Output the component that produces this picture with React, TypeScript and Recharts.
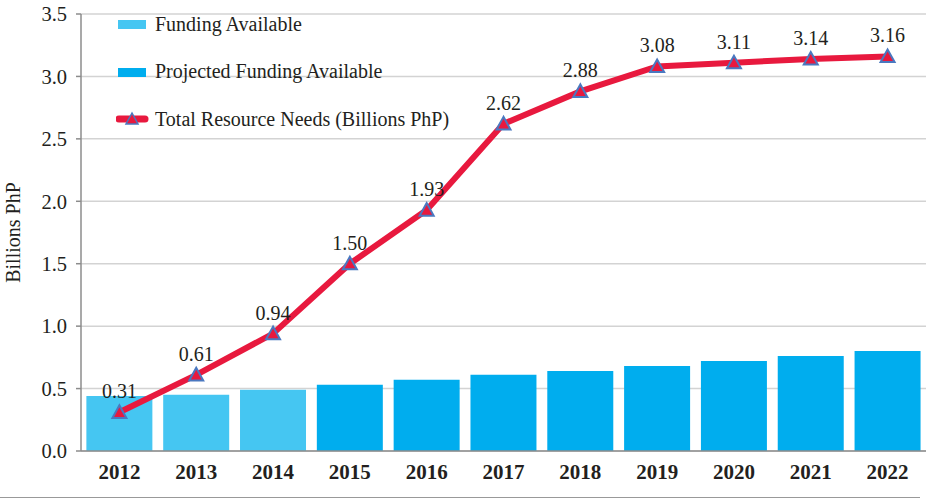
import React from 'react';
import { ComposedChart, Bar, Line, XAxis, YAxis, CartesianGrid, Legend, LabelList } from 'recharts';

const years = ['2012', '2013', '2014', '2015', '2016', '2017', '2018', '2019', '2020', '2021', '2022'];
const fundingAvailable = [0.44, 0.45, 0.49, null, null, null, null, null, null, null, null];
const projectedFunding = [null, null, null, 0.53, 0.57, 0.61, 0.64, 0.68, 0.72, 0.76, 0.80];
const totalNeeds = [0.31, 0.61, 0.94, 1.5, 1.93, 2.62, 2.88, 3.08, 3.11, 3.14, 3.16];
const yTicks = [0, 0.5, 1, 1.5, 2, 2.5, 3, 3.5];
const edgeTicks = [0, 1, 2, 3, 4, 5, 6, 7, 8, 9, 10, 11];

const seriesNames = {
  funding: 'Funding Available',
  projected: 'Projected Funding Available',
  total: 'Total Resource Needs (Billions PhP)',
};

const COLORS = {
  funding: '#45C6F2',
  projected: '#00ADEE',
  line: '#E8193E',
  marker: '#4A78C0',
  grid: '#D3D3D3',
  axis: '#8C8C8C',
  text: '#231F20',
};

const FONT = '"Liberation Serif", "DejaVu Serif", serif';

const data = years.map((y, i) => ({
  year: y,
  funding: fundingAvailable[i],
  projected: projectedFunding[i],
  total: totalNeeds[i],
}));

const Triangle = (props: any) => {
  const { cx, cy } = props;
  if (cx == null || cy == null) return null;
  const s = 7;
  return (
    <polygon
      points={`${cx},${cy - s} ${cx - s},${cy + s * 0.8} ${cx + s},${cy + s * 0.8}`}
      fill={COLORS.line}
      stroke={COLORS.marker}
      strokeWidth={2}
    />
  );
};

const LegendContent = () => {
  const rowStyle: React.CSSProperties = {
    display: 'flex',
    alignItems: 'center',
    height: 24,
    marginBottom: 23.5,
    fontFamily: FONT,
    fontSize: 20,
    color: COLORS.text,
    whiteSpace: 'nowrap',
  };
  return (
    <div>
      <div style={rowStyle}>
        <svg width={39} height={12}>
          <rect x={2} y={2} width={28} height={9} fill={COLORS.funding} />
        </svg>
        <span>{seriesNames.funding}</span>
      </div>
      <div style={rowStyle}>
        <svg width={39} height={12}>
          <rect x={2} y={2} width={28} height={9} fill={COLORS.projected} />
        </svg>
        <span>{seriesNames.projected}</span>
      </div>
      <div style={rowStyle}>
        <svg width={39} height={16}>
          <line x1={3} y1={8} x2={29} y2={8} stroke={COLORS.line} strokeWidth={7} strokeLinecap="round" />
          <polygon points="16,2 10,13 22,13" fill={COLORS.line} stroke={COLORS.marker} strokeWidth={1.5} />
        </svg>
        <span>{seriesNames.total}</span>
      </div>
    </div>
  );
};

export default function App() {
  return (
    <div style={{ position: 'absolute', left: 0, top: 0, width: 926, height: 500, background: '#fff' }}>
      <ComposedChart
        width={926}
        height={500}
        data={data}
        margin={{ top: 14, right: 0, bottom: 0, left: 0 }}
        barCategoryGap="7%"
      >
        <CartesianGrid vertical={false} stroke={COLORS.grid} strokeWidth={1.5} yAxisId="y" xAxisId="cat" />
        <XAxis
          xAxisId="edges"
          type="number"
          dataKey={() => 0}
          domain={[0, 11]}
          ticks={edgeTicks}
          allowDataOverflow
          tick={false}
          axisLine={false}
          tickLine={{ stroke: COLORS.axis, strokeWidth: 1.5 }}
          tickSize={6}
          height={0}
        />
        <XAxis
          xAxisId="cat"
          dataKey="year"
          height={49}
          tickLine={false}
          axisLine={{ stroke: COLORS.axis, strokeWidth: 1.5 }}
          tick={{ fontFamily: FONT, fontSize: 21, fontWeight: 'bold', fill: COLORS.text }}
          tickMargin={7}
          interval={0}
        />
        <YAxis
          yAxisId="y"
          width={81}
          domain={[0, 3.5]}
          ticks={yTicks}
          tickFormatter={(v: number) => v.toFixed(1)}
          axisLine={{ stroke: COLORS.axis, strokeWidth: 1.5 }}
          tickLine={{ stroke: COLORS.axis, strokeWidth: 1.5 }}
          tickSize={5}
          tickMargin={9}
          tick={{ fontFamily: FONT, fontSize: 20.5, fill: COLORS.text }}
          label={{
            value: 'Billions PhP',
            angle: -90,
            position: 'insideLeft',
            offset: 13,
            style: { fontFamily: FONT, fontSize: 20, fill: COLORS.text, textAnchor: 'middle' },
          }}
        />
        <Legend
          layout="vertical"
          align="center"
          verticalAlign="middle"
          content={<LegendContent />}
          wrapperStyle={{ left: 116, top: 12, width: 440, height: 150 }}
        />
        <Bar
          xAxisId="cat"
          yAxisId="y"
          dataKey="funding"
          name={seriesNames.funding}
          stackId="a"
          fill={COLORS.funding}
          isAnimationActive={false}
        />
        <Bar
          xAxisId="cat"
          yAxisId="y"
          dataKey="projected"
          name={seriesNames.projected}
          stackId="a"
          fill={COLORS.projected}
          isAnimationActive={false}
        />
        <Line
          xAxisId="cat"
          yAxisId="y"
          dataKey="total"
          name={seriesNames.total}
          type="linear"
          stroke={COLORS.line}
          strokeWidth={6}
          dot={<Triangle />}
          activeDot={false}
          isAnimationActive={false}
        >
          <LabelList
            dataKey="total"
            position="top"
            offset={14}
            formatter={(v: number) => v.toFixed(2)}
            style={{ fontFamily: FONT, fontSize: 20, fill: COLORS.text }}
          />
        </Line>
      </ComposedChart>
      <div style={{ position: 'absolute', left: 0, top: 497, width: 920, height: 0, borderTop: '1.5px solid #999' }} />
    </div>
  );
}
